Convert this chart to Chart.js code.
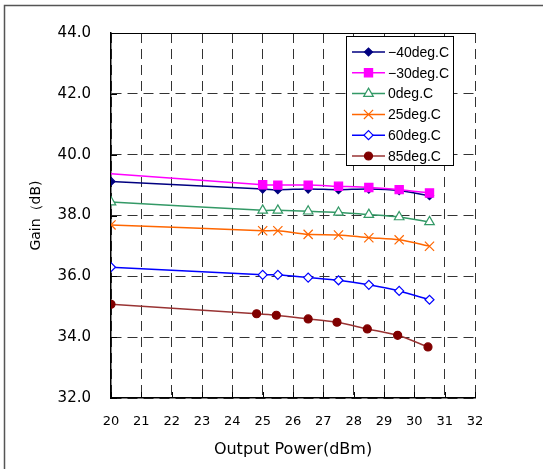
<!DOCTYPE html>
<html>
<head>
<meta charset="utf-8">
<script src="https://cdn.jsdelivr.net/npm/chart.js@4/dist/chart.umd.min.js"></script>
<style>
	body {margin:0; background:#fff;}
	#box {position:relative; width:543px; height:469px;}
</style>
</head>
<body>
<div id="box"><canvas id="GainChart" width="543" height="469"></canvas></div>
<script>
// chart values
var powerMain = [20, 25, 25.5, 26.5, 27.5, 28.5, 29.5, 30.5];
var power85 = [20, 24.8, 25.45, 26.5, 27.45, 28.45, 29.45, 30.45];
var gainM40 = [39.12, 38.87, 38.85, 38.87, 38.85, 38.87, 38.82, 38.65];
var gainM30 = [39.37, 39.01, 39.0, 39.0, 38.96, 38.92, 38.85, 38.74];
var gain0 = [38.44, 38.17, 38.17, 38.14, 38.10, 38.03, 37.95, 37.79];
var gain25 = [37.69, 37.50, 37.50, 37.38, 37.36, 37.27, 37.20, 36.99];
var gain60 = [36.30, 36.05, 36.05, 35.96, 35.87, 35.72, 35.52, 35.23];
var gain85 = [35.08, 34.77, 34.72, 34.60, 34.49, 34.27, 34.06, 33.68];
var seriesNames = ["\u221240deg.C", "\u221230deg.C", "0deg.C", "25deg.C", "60deg.C", "85deg.C"];
var xTicks = [20, 21, 22, 23, 24, 25, 26, 27, 28, 29, 30, 31, 32];
var yTicks = [32, 34, 36, 38, 40, 42, 44];

//turn two lists into {x,y} points
function pairUp(xs, ys){
	var out = [];
	for(var i=0; i<xs.length; i++){ out.push({x: xs[i], y: ys[i]}); }
	return out;
}

function makeSet(idx, xs, ys, line, style, fill, stroke, radius){
	return {
		label: seriesNames[idx],
		data: pairUp(xs, ys),
		showLine: true,
		tension: 0.25,
		borderColor: line,
		borderWidth: 1.5,
		pointStyle: style,
		pointRadius: radius,
		pointBackgroundColor: fill,
		pointBorderColor: stroke,
		pointBorderWidth: 1.2,
		order: 6 - idx
	};
}

var sets = [
	makeSet(0, powerMain, gainM40, "#000080", "rectRot", "#000080", "#000080", 4),
	makeSet(1, powerMain, gainM30, "#FF00FF", "rect", "#FF00FF", "#FF00FF", [0, 5.8, 5.8, 5.8, 5.8, 5.8, 5.8, 5.8]),
	makeSet(2, powerMain, gain0, "#339966", "triangle", "#ffffff", "#339966", 5.5),
	makeSet(3, powerMain, gain25, "#FF6600", "crossRot", "#FF6600", "#FF6600", 6.5),
	makeSet(4, powerMain, gain60, "#0000FF", "rectRot", "#ffffff", "#0000FF", 4.5),
	makeSet(5, power85, gain85, "#993333", "circle", "#800000", "#800000", 4)
];

//frame, inside ticks, top border and the boxed legend
var decorPlugin = {
	id: "decor",
	beforeDraw: function(chart){
		var c = chart.ctx;
		c.save();
		c.fillStyle = "#fff";
		c.fillRect(0, 0, chart.width, chart.height);
		c.strokeStyle = "#555";
		c.lineWidth = 1.5;
		c.strokeRect(4.5, 5.5, 700, 700);
		c.restore();
	},
	afterDraw: function(chart){
		var c = chart.ctx, a = chart.chartArea;
		var xs = chart.scales.x, ys = chart.scales.y;
		c.save();
		c.strokeStyle = "#000";
		c.lineWidth = 1;
		c.beginPath();
		c.moveTo(a.left, a.top + 0.5); c.lineTo(a.right, a.top + 0.5);
		xTicks.forEach(function(v){
			var px = Math.round(xs.getPixelForValue(v)) + 0.5;
			c.moveTo(px, a.bottom); c.lineTo(px, a.bottom - 6);
		});
		yTicks.forEach(function(v){
			var py = Math.round(ys.getPixelForValue(v)) + 0.5;
			c.moveTo(a.left, py); c.lineTo(a.left + 6, py);
		});
		c.stroke();

		// legend box
		var bx = 346.5, by = 36.5, bw = 107, bh = 129;
		c.fillStyle = "#fff";
		c.fillRect(bx, by, bw, bh);
		c.strokeRect(bx, by, bw, bh);
		c.font = "14px 'Liberation Sans'";
		c.textBaseline = "middle";
		chart.data.datasets.forEach(function(ds, i){
			var ry = 52 + i * 20.8;
			c.strokeStyle = ds.borderColor;
			c.lineWidth = 1.5;
			c.beginPath(); c.moveTo(352, ry); c.lineTo(385, ry); c.stroke();
			var r = Array.isArray(ds.pointRadius) ? ds.pointRadius[1] : ds.pointRadius;
			c.fillStyle = ds.pointBackgroundColor;
			c.strokeStyle = ds.pointBorderColor;
			c.lineWidth = 1.2;
			Chart.helpers.drawPoint(c, {pointStyle: ds.pointStyle, radius: r, rotation: 0, borderWidth: 1.2}, 368.5, ry);
			c.fillStyle = "#000";
			c.fillText(ds.label, 388, ry + 1);
		});
		c.restore();
	}
};

new Chart("GainChart", {
	type: "scatter",
	data: {datasets: sets},
	options: {
		responsive: false,
		animation: false,
		layout: {padding: {top: 33, right: 68, left: 0, bottom: 0}},
		plugins: {legend: {display: false}, tooltip: {enabled: false}},
		scales: {
			x: {
				type: "linear", min: 20, max: 32,
				afterFit: function(s){ s.height = 71; },
				afterBuildTicks: function(s){ s.ticks = xTicks.map(function(v){ return {value: v}; }); },
				ticks: {color: "#000", padding: 16, font: {family: "DejaVu Sans", size: 13}},
				grid: {color: "#333", lineWidth: 1, drawTicks: false},
				border: {display: true, color: "#000", width: 1.5, dash: [10, 6]},
				title: {display: true, text: "Output Power(dBm)", color: "#000", font: {family: "DejaVu Sans", size: 16}, padding: {top: 0, bottom: 10}}
			},
			y: {
				type: "linear", min: 32, max: 44,
				afterFit: function(s){ s.width = 111; },
				afterBuildTicks: function(s){ s.ticks = yTicks.map(function(v){ return {value: v}; }); },
				ticks: {color: "#000", padding: 20, font: {family: "DejaVu Sans", size: 15},
					callback: function(v){ return v.toFixed(1); }},
				grid: {color: "#333", lineWidth: 1, drawTicks: false},
				border: {display: true, color: "#000", width: 1.5, dash: [10, 6]},
				title: {display: true, text: "Gain\uFF08dB)", color: "#000", font: {family: "DejaVu Sans", size: 14}, padding: {top: 28, bottom: 0}}
			}
		}
	},
	plugins: [decorPlugin]
});
</script>
</body>
</html>
